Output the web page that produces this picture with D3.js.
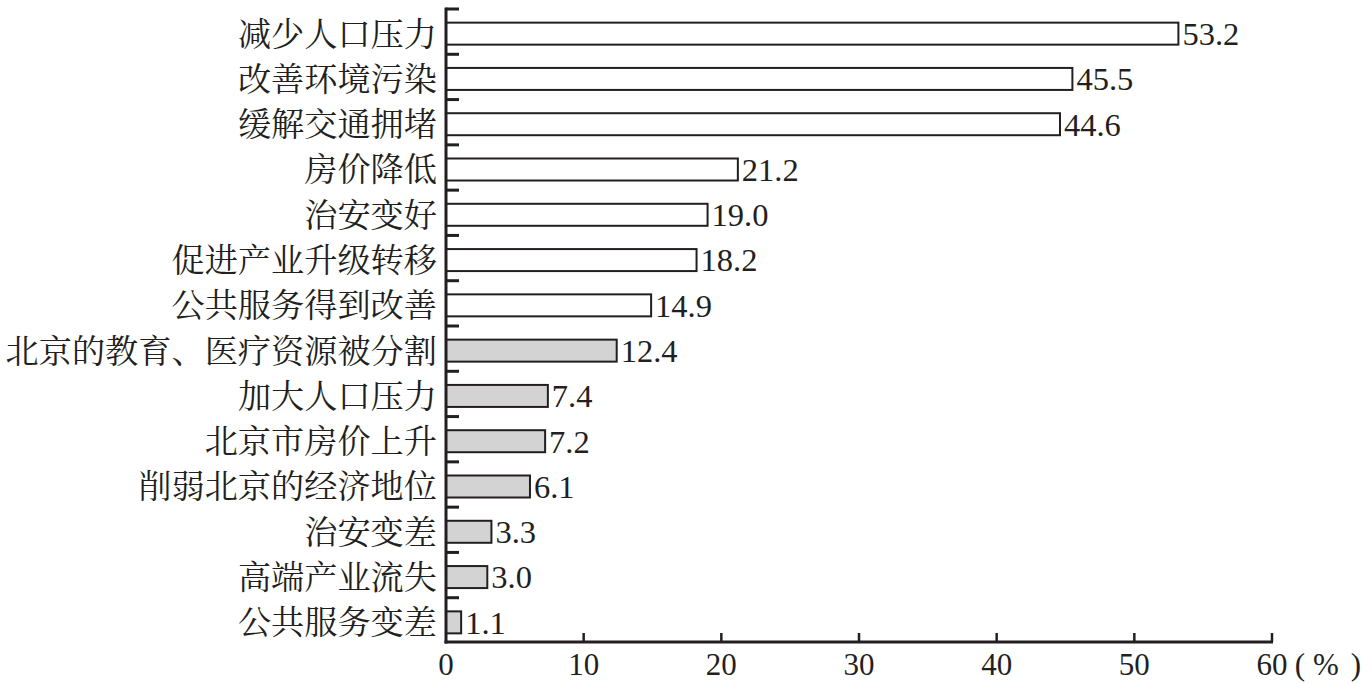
<!DOCTYPE html>
<html><head><meta charset="utf-8">
<script src="https://cdn.jsdelivr.net/npm/d3@7"></script>
<style>
body{margin:0;background:#fff;}
text{font-family:"Liberation Serif","Times New Roman","Noto Serif CJK SC","Noto Sans CJK SC",serif;fill:#231f20;}
</style></head>
<body><svg id="chart" width="1372" height="684"></svg>
<script>
const categories = ["减少人口压力","改善环境污染","缓解交通拥堵","房价降低","治安变好","促进产业升级转移","公共服务得到改善","北京的教育、医疗资源被分割","加大人口压力","北京市房价上升","削弱北京的经济地位","治安变差","高端产业流失","公共服务变差"];
const values = [53.2,45.5,44.6,21.2,19.0,18.2,14.9,12.4,7.4,7.2,6.1,3.3,3.0,1.1];
const groups = ["pos","pos","pos","pos","pos","pos","pos","neg","neg","neg","neg","neg","neg","neg"];
const xTicks = [0,10,20,30,40,50,60];
const unitParts = ["(","%",")"];

const svg = d3.select("#chart");
const x0 = 446, x1 = 1272, yTop = 8, yBot = 642;
const x = d3.scaleLinear().domain([0,60]).range([x0,x1]);
const y = d3.scaleBand().domain(categories).range([yTop,yBot]).paddingInner(0).paddingOuter(0);
const barH = 22, barOff = 3;
const fill = {pos:"#ffffff", neg:"#d3d3d3"};

svg.selectAll("rect.bar").data(categories).join("rect")
  .attr("class","bar")
  .attr("x", x(0))
  .attr("y", (d)=> y(d) + y.bandwidth()/2 + barOff - barH/2)
  .attr("width", (d,i)=> x(values[i]) - x(0))
  .attr("height", barH)
  .attr("fill", (d,i)=> fill[groups[i]])
  .attr("stroke","#231f20").attr("stroke-width",2);

svg.selectAll("text.val").data(categories).join("text")
  .attr("class","val")
  .attr("x", (d,i)=> x(values[i]) + 4)
  .attr("y", (d)=> y(d) + y.bandwidth()/2 + barOff)
  .attr("dy","0.35em")
  .attr("font-size",32.5)
  .text((d,i)=> values[i].toFixed(1));

svg.selectAll("text.cat").data(categories).join("text")
  .attr("class","cat")
  .attr("x", x0 - 9)
  .attr("y", (d)=> y(d) + y.bandwidth()/2 + barOff)
  .attr("dy","0.36em")
  .attr("text-anchor","end")
  .attr("font-size",33.2)
  .text(d=>d);

const bounds = categories.map(d=> y(d));
svg.selectAll("line.ytick").data(bounds).join("line")
  .attr("x1", x0).attr("x2", x0+13)
  .attr("y1", d=>d+1).attr("y2", d=>d+1)
  .attr("stroke","#231f20").attr("stroke-width",3);

svg.append("line").attr("x1",x0).attr("x2",x0).attr("y1",yTop-0.5).attr("y2",yBot+1.5)
  .attr("stroke","#231f20").attr("stroke-width",3);
svg.append("line").attr("x1",x0-1.5).attr("x2",x1+1).attr("y1",yBot).attr("y2",yBot)
  .attr("stroke","#231f20").attr("stroke-width",3);

svg.selectAll("line.xtick").data(xTicks.slice(1)).join("line")
  .attr("x1", d=>x(d)).attr("x2", d=>x(d))
  .attr("y1", yBot).attr("y2", yBot-9)
  .attr("stroke","#231f20").attr("stroke-width",2.5);
svg.selectAll("text.xlab").data(xTicks).join("text")
  .attr("x", d=>x(d)).attr("y", 664).attr("dy","0.35em")
  .attr("text-anchor","middle").attr("font-size",31)
  .text(d=>d);
const unitX = [1300, 1326, 1356];
svg.selectAll("text.unit").data(unitParts).join("text")
  .attr("x",(d,i)=>unitX[i]).attr("y",664).attr("dy","0.35em")
  .attr("text-anchor","middle").attr("font-size",31)
  .text(d=>d);
</script></body></html>
